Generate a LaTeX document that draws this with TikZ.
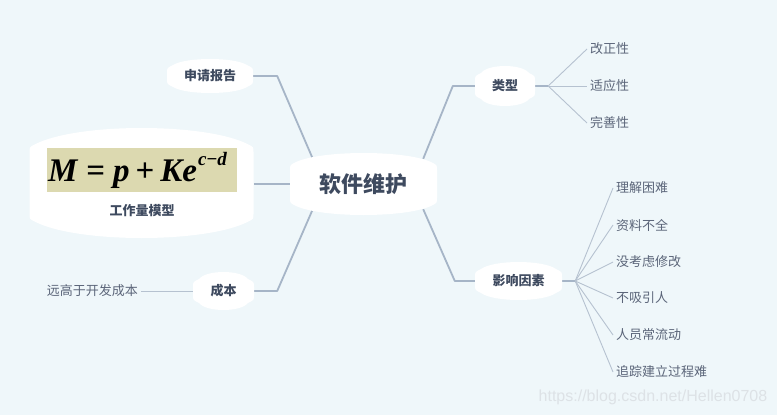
\documentclass[tikz,border=0pt]{standalone}
\usepackage{fontspec}
\setmainfont{Noto Sans CJK SC}
\newfontfamily\tms{Liberation Serif}
\newfontfamily\wmfont{Liberation Sans}
\usetikzlibrary{calc}
\pgfdeclarelayer{bg}
\pgfdeclarelayer{lines}
\pgfsetlayers{bg,lines,main}
\definecolor{bgc}{HTML}{EFF7FA}
\definecolor{txt}{HTML}{3E4A5F}
\definecolor{leaftxt}{HTML}{5B6579}
\definecolor{ln}{HTML}{A6B5C7}
\definecolor{lnthin}{HTML}{B6C2D0}
\definecolor{khaki}{HTML}{DCD9B0}
\definecolor{wmc}{HTML}{DDE2E6}
\tikzset{
 blob/.style={inner sep=0pt, text=txt, font=\bfseries\fontsize{13}{15}\selectfont,
  path picture={
   \fill[white] let \p1=(path picture bounding box.south west), \p2=(path picture bounding box.north east) in
   (\x1,{\y2-#1-6pt}) .. controls (\x1,{\y2-#1-1pt}) .. ({\x1+6pt},{\y2-#1+2pt})
   .. controls ({\x1+0.22*(\x2-\x1)},{\y2+(#1-2pt)/3}) and ({\x2-0.22*(\x2-\x1)},{\y2+(#1-2pt)/3}) .. ({\x2-6pt},{\y2-#1+2pt})
   .. controls (\x2,{\y2-#1-1pt}) .. (\x2,{\y2-#1-6pt})
   -- (\x2,{\y1+#1+6pt})
   .. controls (\x2,{\y1+#1+1pt}) .. ({\x2-6pt},{\y1+#1-2pt})
   .. controls ({\x2-0.22*(\x2-\x1)},{\y1-(#1-2pt)/3}) and ({\x1+0.22*(\x2-\x1)},{\y1-(#1-2pt)/3}) .. ({\x1+6pt},{\y1+#1-2pt})
   .. controls (\x1,{\y1+#1+1pt}) .. (\x1,{\y1+#1+6pt}) -- cycle;
  }},
 leaf/.style={inner sep=3pt, text=leaftxt, font=\fontsize{13}{15}\selectfont},
 conn/.style={draw=ln, line width=1.8pt, line join=round},
 thinconn/.style={draw=lnthin, line width=0.9pt},
}
\begin{document}
\begin{tikzpicture}[x=1pt,y=-1pt]
\useasboundingbox (0,0) rectangle (777,415);
\begin{pgfonlayer}{bg}
\fill[bgc] (0,0) rectangle (777,415);
\end{pgfonlayer}

% main nodes
\node[blob=11pt, minimum width=147pt, minimum height=62pt, font=\bfseries\fontsize{22}{24}\selectfont] (c) at (363.5,184) {软件维护};
\node[blob=8pt, minimum width=86pt, minimum height=34pt] (sq) at (210,76) {申请报告};
\node[blob=18pt, minimum width=224pt, minimum height=110pt] (fb) at (141.5,183) {};
\node[fill=khaki, minimum width=190pt, minimum height=44pt, inner sep=0pt] (fm) at (142,170)
 {\makebox[188pt][l]{\tms\bfseries\itshape\fontsize{33}{33}\selectfont M\hspace{9pt}{\upshape=}\hspace{8pt}p\hspace{6pt}{\upshape+}\hspace{6pt}Ke\raisebox{16pt}{\fontsize{19}{19}\selectfont\hspace{1pt}c{\upshape −}d}}};
\node[text=txt, font=\bfseries\fontsize{13}{15}\selectfont, inner sep=0pt] (fl) at (142,211) {工作量模型};
\node[blob=9pt, minimum width=61pt, minimum height=38pt] (cb) at (223.5,291) {成本};
\node[blob=9pt, minimum width=60pt, minimum height=40pt] (lx) at (505,86) {类型};
\node[blob=9pt, minimum width=87pt, minimum height=38pt] (yx) at (518.5,281) {影响因素};

% leaves
\node[leaf, anchor=west] (a1) at (587,49) {改正性};
\node[leaf, anchor=west] (a2) at (587,86) {适应性};
\node[leaf, anchor=west] (a3) at (587,123) {完善性};
\node[leaf, anchor=west] (b1) at (613,188) {理解困难};
\node[leaf, anchor=west] (b2) at (613,225) {资料不全};
\node[leaf, anchor=west] (b3) at (613,262) {没考虑修改};
\node[leaf, anchor=west] (b4) at (613,298) {不吸引人};
\node[leaf, anchor=west] (b5) at (613,335) {人员常流动};
\node[leaf, anchor=west] (b6) at (613,372) {追踪建立过程难};
\node[leaf, anchor=east] (cl) at (141,291) {远高于开发成本};

% watermark
\node[text=wmc, font=\wmfont\fontsize{16}{18}\selectfont, inner sep=0pt] (wm) at (653,397) {https://blog.csdn.net/Hellen0708};

\coordinate (cnw) at ([xshift=23pt,yshift=-6pt]c.north west);
\coordinate (csw) at ([xshift=23pt,yshift=6pt]c.south west);
\coordinate (cne) at ([xshift=-14pt,yshift=-6pt]c.north east);
\coordinate (cse) at ([xshift=-14pt,yshift=6pt]c.south east);

\begin{pgfonlayer}{lines}
\draw[conn] (sq.east) -- ++(24,0) -- (cnw);
\draw[conn] (fb.east |- c.west) -- (c.west);
\draw[conn] (cb.east) -- ++(23,0) -- (csw);
\draw[conn] (lx.west) -- ++(-22,0) -- (cne);
\draw[conn] (yx.west) -- ++(-20,0) -- (cse);
\draw[conn] (lx.east) -- ++(13,0) coordinate (lxb);
\draw[conn] (yx.east) -- ++(13,0) coordinate (yxb);
\foreach \n in {a1,a2,a3} \draw[thinconn] (lxb) -- (\n.west);
\foreach \n in {b1,b2,b3,b4,b5,b6} \draw[thinconn] (yxb) -- (\n.west);
\draw[thinconn] (cb.west) -- (cl.east);
\end{pgfonlayer}
\end{tikzpicture}
\end{document}
